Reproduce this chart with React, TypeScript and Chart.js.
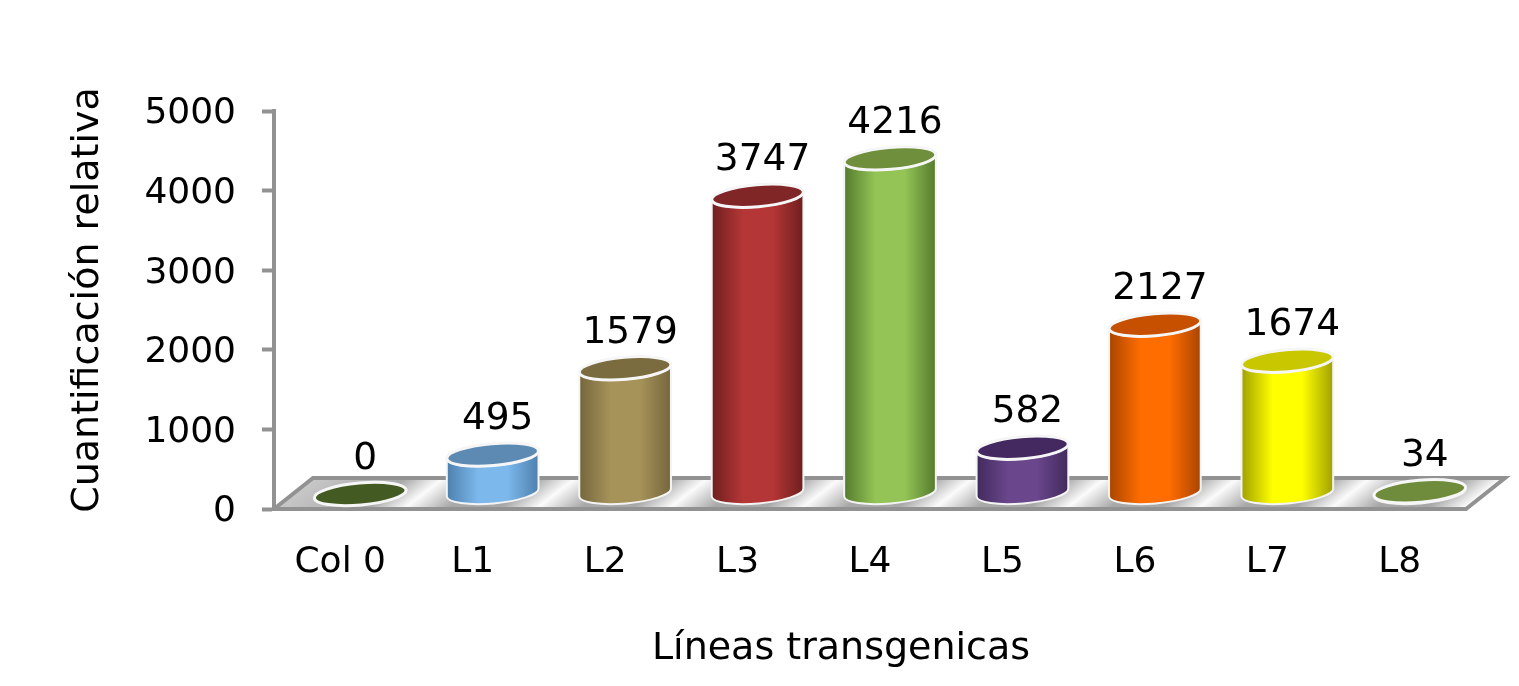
import React, { useEffect, useRef } from "react";
import { Chart, registerables } from "chart.js";

Chart.register(...registerables);

const categories = ["Col 0", "L1", "L2", "L3", "L4", "L5", "L6", "L7", "L8"];
const values = [0, 495, 1579, 3747, 4216, 582, 2127, 1674, 34];
const sideColors = ["#5a7a2d", "#7cb8ec", "#a6935a", "#b53636", "#93c455", "#6a468c", "#ff6c00", "#ffff00", "#92c353"];
const sideShades = ["#3f5620", "#4d80ad", "#75663c", "#6e1e1e", "#557a2e", "#412a5c", "#a84500", "#a0a000", "#5c8033"];
const topColors = ["#435b22", "#5d8ab3", "#7a6c3e", "#812626", "#6f8f3c", "#43295f", "#c65000", "#c9c700", "#6e8c3b"];
const yTicks = [0, 1000, 2000, 3000, 4000, 5000];
const xTitle = "Líneas transgenicas";
const yTitle = "Cuantificación relativa";

const FONT = '"DejaVu Sans", Verdana, sans-serif';
const GREY = "#929292";
const DEPTH_X = 20;
const DEPTH_Y = 15;
const FLOOR_X = 39;
const FLOOR_Y = 31;
const TILT = (-5 * Math.PI) / 180;

const cylinders = {
  id: "cylinders",
  beforeDatasetsDraw(chart: any) {
    const { ctx, chartArea: a } = chart;
    const b = a.bottom;
    ctx.save();
    ctx.beginPath();
    ctx.moveTo(a.left, b);
    ctx.lineTo(a.right, b);
    ctx.lineTo(a.right + FLOOR_X, b - FLOOR_Y);
    ctx.lineTo(a.left + FLOOR_X, b - FLOOR_Y);
    ctx.closePath();
    const span = a.right - a.left;
    const g = ctx.createLinearGradient(a.left, b, a.left + span * 0.375, b + span * 0.484);
    const bars = chart.getDatasetMeta(0).data;
    const half = bars[0].width / 2;
    const add = (p: number, col: string) => g.addColorStop(Math.min(1, Math.max(0, p / span)), col);
    add(0, "#c8c8c8");
    bars.forEach((bar: any, i: number) => {
      const c = bar.x - a.left;
      const next = i < bars.length - 1 ? bars[i + 1].x - a.left : c + span / bars.length;
      add(c + half - 20, "#a8a8a8");
      add((c + next) / 2 - 3, "#fbfbfb");
      add(next - half + 20, "#a8a8a8");
    });
    ctx.fillStyle = g;
    ctx.fill();
    ctx.strokeStyle = GREY;
    ctx.lineWidth = 4;
    ctx.stroke();
    ctx.restore();
  },
  beforeDatasetDraw(chart: any) {
    const { ctx, chartArea: a } = chart;
    const bars = chart.getDatasetMeta(0).data;
    ctx.save();
    bars.forEach((bar: any, i: number) => {
      const rx = bar.width / 2;
      const ry = 11;
      const cx = bar.x + DEPTH_X;
      const by = bar.base - DEPTH_Y;
      const ty = bar.y - DEPTH_Y;
      const side = sideColors[i];
      if (by - ty > 1) {
        const dx = rx * Math.cos(TILT);
        const dy = rx * Math.sin(TILT);
        const path = new Path2D();
        path.ellipse(cx, by - 1, rx, ry, TILT, Math.PI, 0, true);
        path.lineTo(cx + dx, ty + dy);
        path.ellipse(cx, ty, rx, ry, TILT, 0, Math.PI, false);
        path.closePath();
        const g = ctx.createLinearGradient(cx - rx, 0, cx + rx, 0);
        g.addColorStop(0, sideShades[i]);
        g.addColorStop(0.34, side);
        g.addColorStop(0.66, side);
        g.addColorStop(1, sideShades[i]);
        ctx.fillStyle = g;
        ctx.fill(path);
        ctx.strokeStyle = "#f4f4f4";
        ctx.lineWidth = 2;
        ctx.stroke(path);
      }
      ctx.beginPath();
      ctx.ellipse(cx, ty, rx, ry, TILT, 0, Math.PI * 2);
      ctx.fillStyle = topColors[i];
      ctx.fill();
      ctx.strokeStyle = "#f6f6f6";
      ctx.lineWidth = 3;
      ctx.stroke();

      ctx.fillStyle = "#000";
      ctx.font = `37.5px ${FONT}`;
      ctx.textAlign = "center";
      ctx.textBaseline = "middle";
      ctx.fillText(String(values[i]), cx + 5, ty - 35);
    });
    ctx.fillStyle = "#000";
    ctx.textAlign = "center";
    ctx.textBaseline = "middle";
    ctx.font = `38px ${FONT}`;
    ctx.fillText(xTitle, a.left + 567, a.bottom + 140);
    ctx.translate(88, a.top + 189);
    ctx.rotate(-Math.PI / 2);
    ctx.fillText(yTitle, 0, 0);
    ctx.restore();
    return false;
  },
};

export default function App() {
  const ref = useRef<HTMLCanvasElement>(null);
  useEffect(() => {
    const chart = new Chart(ref.current as HTMLCanvasElement, {
      type: "bar",
      data: {
        labels: categories,
        datasets: [
          {
            data: values,
            backgroundColor: sideColors,
            categoryPercentage: 1,
            barPercentage: 0.695,
          },
        ],
      },
      options: {
        responsive: false,
        animation: false,
        layout: { padding: { top: 111, right: 53, left: 0, bottom: 0 } },
        plugins: { legend: { display: false }, tooltip: { enabled: false } },
        scales: {
          x: {
            afterFit: (s: any) => {
              s.height = 177;
            },
            grid: { display: false },
            border: { display: false },
            ticks: { font: { size: 36, family: FONT }, color: "#000", padding: 24, maxRotation: 0 },
          },
          y: {
            min: 0,
            max: 5000,
            afterFit: (s: any) => {
              s.width = 274;
            },
            afterBuildTicks: (s: any) => {
              s.ticks = yTicks.map((value) => ({ value }));
            },
            grid: { drawOnChartArea: false, tickLength: 12, tickColor: GREY, tickWidth: 4 },
            border: { color: GREY, width: 4 },
            ticks: {
              font: { size: 36, family: FONT },
              color: "#000",
              padding: 26,
              labelOffset: 3,
              callback: (v: any) => String(v),
            },
          },
        },
      },
      plugins: [cylinders],
    } as any);
    return () => chart.destroy();
  }, []);
  return (
    <canvas
      ref={ref}
      width={1519}
      height={686}
      style={{ position: "fixed", left: 0, top: 0, width: 1519, height: 686, background: "#fff" }}
    />
  );
}
